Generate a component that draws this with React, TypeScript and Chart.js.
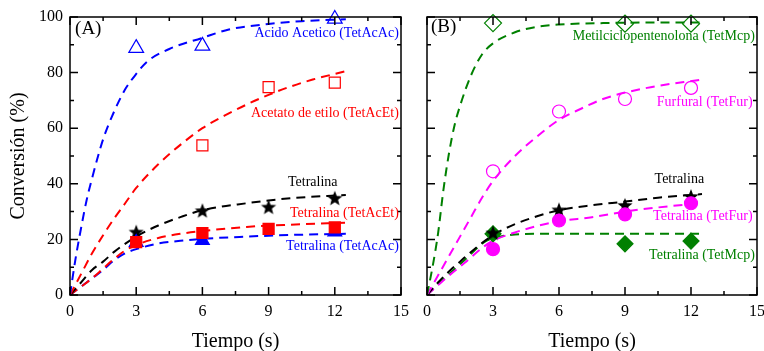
import React, { useEffect, useRef } from 'react';
import { Chart, registerables } from 'chart.js';

Chart.register(...registerables);

// ---------- axes ----------
const X_TICKS = [0, 3, 6, 9, 12, 15];
const X_MINOR = [1.5, 4.5, 7.5, 10.5, 13.5];
const Y_TICKS = [0, 20, 40, 60, 80, 100];
const Y_MINOR = [10, 30, 50, 70, 90];

// ---------- panel A: markers ----------
const acacX = [3, 6, 12];
const acacY = [88.8, 89.6, 99.3];
const acetX = [6, 9, 12];
const acetY = [53.8, 74.8, 76.4];
const tetA_X = [3, 6, 9, 12];
const tetA_Y = [22.8, 30.5, 31.8, 35.0];
const tetAcEtX = [3, 6, 9, 12];
const tetAcEtY = [19.0, 22.3, 23.8, 24.3];
const tetAcAcX = [3, 6, 12];
const tetAcAcY = [18.9, 19.6, 22.7];

// ---------- panel A: fitted curves ----------
const acacCurveX = [0, 0.25, 0.5, 0.75, 1, 1.5, 2, 2.5, 3, 3.5, 4.5, 6, 7.2, 9, 10.5, 12.5];
const acacCurveY = [0, 13, 24, 34, 42, 56, 66, 74, 79.5, 84, 88.5, 92.5, 95.5, 97.5, 98.5, 99.2];
const acetCurveX = [0, 0.5, 1, 1.5, 2, 2.5, 3, 4, 5, 6, 7, 8, 9, 10, 11, 12.5];
const acetCurveY = [0, 7.5, 15, 21.5, 27.5, 33, 38.5, 47, 54, 60, 64.5, 68.5, 72, 75, 77.5, 80.5];
const tetA_CurveX = [0, 0.5, 1, 1.5, 2, 3, 4, 5, 6, 8, 10, 12.5];
const tetA_CurveY = [0, 4.5, 9, 12, 15.5, 21, 25, 28, 30.5, 33, 34.8, 36];
const tetAcEtCurveX = [0, 0.5, 1, 1.5, 2, 2.5, 3, 4, 5, 6, 8, 10, 12.5];
const tetAcEtCurveY = [0, 3, 6, 9.5, 13, 16, 18, 20.5, 22, 23, 24.5, 25.3, 26];
const tetAcAcCurveX = [0, 0.5, 1, 1.5, 2, 2.5, 3, 4, 5, 6, 8, 10, 12.5];
const tetAcAcCurveY = [0, 3, 6, 9, 12.5, 15, 16.5, 18.5, 19.5, 20.2, 21, 21.6, 22];

// ---------- panel B: markers ----------
const mcpX = [3, 9, 12];
const mcpY = [97.8, 97.6, 97.6];
const furX = [3, 6, 9, 12];
const furY = [44.5, 66, 70.5, 74.5];
const tetB_X = [3, 6, 9, 12];
const tetB_Y = [22.5, 30.8, 32.4, 35.6];
const tetFurX = [3, 6, 9, 12];
const tetFurY = [16.5, 26.8, 29, 33];
const tetMcpX = [3, 9, 12];
const tetMcpY = [22, 18.4, 19.4];

// ---------- panel B: fitted curves ----------
const mcpCurveX = [0, 0.25, 0.5, 0.75, 1, 1.25, 1.5, 2, 2.5, 3, 4, 5, 6, 8, 10, 12.5];
const mcpCurveY = [0, 10, 22, 38, 51, 61, 68, 79, 86.5, 90.5, 94.5, 96.5, 97.3, 97.8, 98, 98];
const furCurveX = [0, 0.5, 1, 1.5, 2, 2.5, 3, 4, 5, 6, 7, 8, 10, 12.5];
const furCurveY = [0, 7, 14, 21, 28, 35, 41, 50, 57, 63, 67, 70.5, 74.5, 77.5];
const tetB_CurveX = [0, 0.5, 1, 1.5, 2, 3, 4, 5, 6, 7.5, 9, 10.5, 12.5];
const tetB_CurveY = [0, 4.5, 8.5, 12, 15.5, 21.5, 25.5, 28.3, 30.5, 32.3, 33.6, 35, 36.3];
const tetFurCurveX = [0, 0.5, 1, 1.7, 2.6, 3, 4, 5, 6, 7.5, 9, 10.5, 12.5];
const tetFurCurveY = [0, 3.5, 7, 11.5, 17.5, 19.5, 22.5, 24.8, 26.5, 28, 30, 31.5, 33];
const tetMcpCurveX = [0, 0.5, 1, 1.7, 2.6, 3, 3.5, 4, 5, 8, 12.5];
const tetMcpCurveY = [0, 3.7, 7.5, 12.5, 19, 20.5, 21.3, 21.8, 22, 22, 22];

// ---------- labels ----------
const labelsA = ['(A)', 'Acido Acetico (TetAcAc)', 'Acetato de etilo (TetAcEt)', 'Tetralina', 'Tetralina (TetAcEt)', 'Tetralina (TetAcAc)'];
const labelsB = ['(B)', 'Metilciclopentenolona (TetMcp)', 'Furfural (TetFur)', 'Tetralina', 'Tetralina (TetFur)', 'Tetralina (TetMcp)'];
const Y_TITLE = 'Conversión (%)';
const X_TITLE = 'Tiempo (s)';

const FONT = "'Liberation Serif', 'Times New Roman', serif";
const BLUE = '#0000FF';
const RED = '#FF0000';
const BLACK = '#000000';
const GREEN = '#008000';
const MAGENTA = '#FF00FF';

// label placement (data coordinates)
const labelPosA = [
  { x: 0.23, y: 95.7, align: 'left', color: BLACK, size: 19 },
  { x: 14.9, y: 94.2, align: 'right', color: BLUE, size: 14 },
  { x: 14.9, y: 65.5, align: 'right', color: RED, size: 14 },
  { x: 11.0, y: 40.6, align: 'center', color: BLACK, size: 14 },
  { x: 14.9, y: 29.5, align: 'right', color: RED, size: 14 },
  { x: 14.9, y: 17.6, align: 'right', color: BLUE, size: 14 },
];
const labelPosB = [
  { x: 0.18, y: 96.4, align: 'left', color: BLACK, size: 19 },
  { x: 14.9, y: 93.2, align: 'right', color: GREEN, size: 14 },
  { x: 14.8, y: 69.4, align: 'right', color: MAGENTA, size: 14 },
  { x: 11.47, y: 41.7, align: 'center', color: BLACK, size: 14 },
  { x: 14.8, y: 28.4, align: 'right', color: MAGENTA, size: 14 },
  { x: 14.9, y: 14.4, align: 'right', color: GREEN, size: 14 },
];

const pts = (xs: number[], ys: number[]) => xs.map((x, i) => ({ x, y: ys[i] }));

function makeStar(color: string, R: number, r: number) {
  const c = document.createElement('canvas');
  const s = Math.ceil(R * 2 + 2);
  c.width = s;
  c.height = s;
  const g = c.getContext('2d')!;
  g.fillStyle = color;
  g.beginPath();
  for (let i = 0; i < 10; i++) {
    const rad = i % 2 === 0 ? R : r;
    const ang = -Math.PI / 2 + (i * Math.PI) / 5;
    const px = s / 2 + rad * Math.cos(ang);
    const py = s / 2 + 1 + rad * Math.sin(ang);
    if (i === 0) g.moveTo(px, py);
    else g.lineTo(px, py);
  }
  g.closePath();
  g.fill();
  return c;
}

function markers(xs: number[], ys: number[], color: string, style: any, radius: number, filled: boolean) {
  return {
    data: pts(xs, ys),
    showLine: false,
    pointStyle: style,
    pointRadius: radius,
    pointHoverRadius: radius,
    pointBorderColor: color,
    pointBackgroundColor: filled ? color : 'rgba(0,0,0,0)',
    pointBorderWidth: 1.2,
    borderColor: color,
    backgroundColor: color,
    clip: false as any,
  };
}

function curve(xs: number[], ys: number[], color: string) {
  return {
    data: pts(xs, ys),
    showLine: true,
    borderColor: color,
    borderWidth: 2,
    borderDash: [9, 6],
    pointRadius: 0,
    cubicInterpolationMode: 'monotone' as const,
    fill: false,
  };
}

function framePlugin(labels: string[], pos: any[], drawYTitle: boolean) {
  return {
    id: 'frame',
    afterDraw(chart: any) {
      const { ctx, chartArea: a, scales } = chart;
      const x = scales.x;
      const y = scales.y;
      ctx.save();
      ctx.strokeStyle = '#000';
      ctx.lineWidth = 1.5;
      ctx.strokeRect(a.left, a.top, a.right - a.left, a.bottom - a.top);
      ctx.beginPath();
      const xt = (v: number, len: number) => {
        const px = x.getPixelForValue(v);
        ctx.moveTo(px, a.bottom);
        ctx.lineTo(px, a.bottom - len);
        ctx.moveTo(px, a.top);
        ctx.lineTo(px, a.top + len);
      };
      const yt = (v: number, len: number) => {
        const py = y.getPixelForValue(v);
        ctx.moveTo(a.left, py);
        ctx.lineTo(a.left + len, py);
        ctx.moveTo(a.right, py);
        ctx.lineTo(a.right - len, py);
      };
      X_TICKS.forEach((v) => xt(v, 8));
      X_MINOR.forEach((v) => xt(v, 4));
      Y_TICKS.forEach((v) => yt(v, 8));
      Y_MINOR.forEach((v) => yt(v, 4));
      ctx.stroke();

      ctx.textBaseline = 'middle';
      labels.forEach((t, i) => {
        const p = pos[i];
        ctx.font = `${p.size}px ${FONT}`;
        ctx.fillStyle = p.color;
        ctx.textAlign = p.align;
        ctx.fillText(t, x.getPixelForValue(p.x), y.getPixelForValue(p.y));
      });

      ctx.fillStyle = '#000';
      ctx.font = `20px ${FONT}`;
      ctx.textAlign = 'center';
      ctx.textBaseline = 'alphabetic';
      ctx.fillText(X_TITLE, (a.left + a.right) / 2, 347);
      if (drawYTitle) {
        ctx.translate(19, (a.top + a.bottom) / 2);
        ctx.rotate(-Math.PI / 2);
        ctx.textBaseline = 'middle';
        ctx.fillText(Y_TITLE, 0, 0);
      }
      ctx.restore();
    },
  };
}

function scalesCfg(showY: boolean) {
  return {
    x: {
      type: 'linear',
      min: 0,
      max: 15,
      afterBuildTicks: (s: any) => {
        s.ticks = X_TICKS.map((v) => ({ value: v }));
      },
      ticks: { color: '#000', font: { family: FONT, size: 16 }, padding: 7, autoSkip: false, maxRotation: 0 },
      grid: { display: false, drawTicks: false },
      border: { display: false },
      afterFit: (s: any) => {
        s.height = 56;
      },
    },
    y: {
      type: 'linear',
      min: 0,
      max: 100,
      display: showY,
      afterBuildTicks: (s: any) => {
        s.ticks = Y_TICKS.map((v) => ({ value: v }));
      },
      ticks: { color: '#000', font: { family: FONT, size: 16 }, padding: 7 },
      grid: { display: false, drawTicks: false },
      border: { display: false },
      afterFit: (s: any) => {
        s.width = showY ? 70 : 0;
      },
    },
  };
}

export default function App() {
  const refA = useRef<HTMLCanvasElement>(null);
  const refB = useRef<HTMLCanvasElement>(null);

  useEffect(() => {
    const starBlack = makeStar(BLACK, 8, 3.4);

    const chartA = new Chart(refA.current!, {
      type: 'line',
      data: {
        datasets: [
          markers(acacX, acacY, BLUE, 'triangle', 8.5, false),
          markers(acetX, acetY, RED, 'rect', 7.8, false),
          markers(tetAcEtX, tetAcEtY, RED, 'rect', 7.8, true),
          markers(tetAcAcX, tetAcAcY, BLUE, 'triangle', 8, true),
          markers(tetA_X, tetA_Y, BLACK, starBlack, 8, true),
          curve(acacCurveX, acacCurveY, BLUE),
          curve(acetCurveX, acetCurveY, RED),
          curve(tetA_CurveX, tetA_CurveY, BLACK),
          curve(tetAcEtCurveX, tetAcEtCurveY, RED),
          curve(tetAcAcCurveX, tetAcAcCurveY, BLUE),
        ] as any,
      },
      options: {
        responsive: false,
        animation: false,
        devicePixelRatio: 1,
        layout: { padding: { top: 17, right: 14, bottom: 0, left: 0 } },
        plugins: { legend: { display: false }, tooltip: { enabled: false } },
        scales: scalesCfg(true) as any,
      },
      plugins: [framePlugin(labelsA, labelPosA, true)],
    });

    const chartB = new Chart(refB.current!, {
      type: 'line',
      data: {
        datasets: [
          markers(mcpX, mcpY, GREEN, 'rectRot', 8.5, false),
          markers(furX, furY, MAGENTA, 'circle', 6.5, false),
          markers(tetFurX, tetFurY, MAGENTA, 'circle', 6.5, true),
          markers(tetB_X, tetB_Y, BLACK, starBlack, 8, true),
          markers(tetMcpX, tetMcpY, GREEN, 'rectRot', 8, true),
          curve(mcpCurveX, mcpCurveY, GREEN),
          curve(furCurveX, furCurveY, MAGENTA),
          curve(tetB_CurveX, tetB_CurveY, BLACK),
          curve(tetFurCurveX, tetFurCurveY, MAGENTA),
          curve(tetMcpCurveX, tetMcpCurveY, GREEN),
        ] as any,
      },
      options: {
        responsive: false,
        animation: false,
        devicePixelRatio: 1,
        layout: { padding: { top: 17, right: 15, bottom: 0, left: 7 } },
        plugins: { legend: { display: false }, tooltip: { enabled: false } },
        scales: scalesCfg(false) as any,
      },
      plugins: [framePlugin(labelsB, labelPosB, false)],
    });

    return () => {
      chartA.destroy();
      chartB.destroy();
    };
  }, []);

  return (
    <div style={{ position: 'fixed', left: 0, top: 0, width: 764, height: 351, overflow: 'hidden', background: '#fff' }}>
      <canvas ref={refA} width={416} height={351} style={{ position: 'absolute', left: 0, top: 0, width: 416, height: 351 }} />
      <canvas ref={refB} width={356} height={351} style={{ position: 'absolute', left: 416, top: 0, width: 356, height: 351 }} />
    </div>
  );
}
